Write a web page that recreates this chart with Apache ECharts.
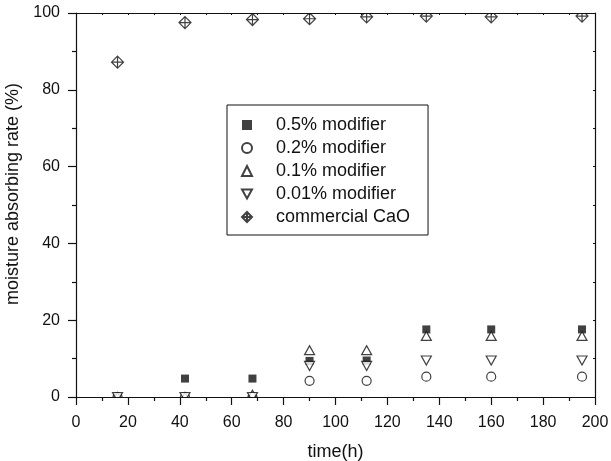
<!DOCTYPE html>
<html>
<head>
<meta charset="utf-8">
<script src="https://cdn.jsdelivr.net/npm/echarts@6/dist/echarts.min.js"></script>
<style>
  html, body { margin: 0; padding: 0; background: #fff; }
  #main { width: 611px; height: 461px; }
</style>
</head>
<body>
<div id="main"></div>
<script>
// time points (h)
let timeH = [16, 42, 68, 90, 112, 135, 160, 195];
// moisture absorbing rate (%)
let mod05 = [0, 4.8, 4.8, 9.4, 9.5, 17.6, 17.6, 17.6];
let mod02 = [0, 0, 0, 4.2, 4.2, 5.3, 5.3, 5.3];
let mod01 = [0, 0, 0.6, 12.2, 12.2, 15.9, 15.9, 15.9];
let mod001 = [0, 0, 0, 8.1, 8.1, 9.5, 9.5, 9.5];
let cao = [87.2, 97.5, 98.3, 98.5, 99.0, 99.2, 99.0, 99.2];
let names = ["0.5% modifier", "0.2% modifier", "0.1% modifier", "0.01% modifier", "commercial CaO"];

const ink = "#111";
const font = "Liberation Sans";

function pairs(ys) {
  return ys.map((y, i) => [timeH[i], y]);
}

// diamond with a cross in it, and a downward triangle
const crossDiamond = "path://M0,-6L6,0L0,6L-6,0ZM0,-6L0,6M-6,0L6,0";
const downTriangle = "path://M-5,-4.5L5,-4.5L0,4.5Z";

var myChart = echarts.init(document.getElementById("main"), null, { renderer: "canvas" });

let hollow = { color: "#fff", borderColor: ink, borderWidth: 1.2 };
let axisZ = 10;

let option = {
  backgroundColor: "#fff",
  animation: false,
  grid: { left: 76, right: 16, top: 13, bottom: 64, outerBoundsMode: "none", containLabel: false },
  legend: {
    orient: "vertical",
    left: 227,
    top: 105,
    padding: [11, 18, 9, 14],
    itemWidth: 10,
    itemHeight: 10,
    itemGap: 5,
    borderColor: ink,
    borderWidth: 1,
    backgroundColor: "#fff",
    textStyle: { fontFamily: font, fontSize: 18, color: ink, padding: [0, 0, 0, 19] },
    data: names,
  },
  xAxis: [
    {
      type: "value",
      z: axisZ,
      min: 0,
      max: 200,
      interval: 20,
      name: "time(h)",
      nameLocation: "middle",
      nameGap: 46,
      nameTextStyle: { fontFamily: font, fontSize: 18, color: ink },
      axisLine: { lineStyle: { color: ink, width: 1.2 } },
      axisTick: { length: 8, lineStyle: { color: ink, width: 1.2 } },
      minorTick: { show: true, splitNumber: 2, length: 4, lineStyle: { color: ink, width: 1.2 } },
      axisLabel: { fontFamily: font, fontSize: 16, color: ink, margin: 18 },
      splitLine: { show: false },
    },
    {
      // top border
      type: "value",
      z: axisZ,
      position: "top",
      min: 0,
      max: 200,
      interval: 10,
      axisLine: { onZero: false, lineStyle: { color: ink, width: 1.2 } },
      axisTick: { inside: true, length: 2, lineStyle: { color: ink } },
      axisLabel: { show: false },
      splitLine: { show: false },
    },
  ],
  yAxis: [
    {
      type: "value",
      z: axisZ,
      min: 0,
      max: 100,
      interval: 20,
      name: "moisture absorbing rate (%)",
      nameLocation: "middle",
      nameGap: 54,
      nameTextStyle: { fontFamily: font, fontSize: 18, color: ink, padding: [0, 0, 0, 22] },
      axisLine: { show: true, lineStyle: { color: ink, width: 1.2 } },
      axisTick: { show: true, length: 8, lineStyle: { color: ink, width: 1.2 } },
      minorTick: { show: true, splitNumber: 2, length: 4, lineStyle: { color: ink, width: 1.2 } },
      axisLabel: { fontFamily: font, fontSize: 16, color: ink, margin: 16 },
      splitLine: { show: false },
    },
    {
      // right border
      type: "value",
      z: axisZ,
      position: "right",
      min: 0,
      max: 100,
      interval: 10,
      axisLine: { show: true, onZero: false, lineStyle: { color: ink, width: 1.2 } },
      axisTick: { show: true, inside: true, length: 2, lineStyle: { color: ink } },
      axisLabel: { show: false },
      splitLine: { show: false },
    },
  ],
  series: [
    {
      name: names[0],
      type: "scatter",
      symbol: "rect",
      symbolSize: 8,
      itemStyle: { color: ink },
      data: pairs(mod05),
    },
    {
      name: names[1],
      type: "scatter",
      symbol: "circle",
      symbolSize: 9,
      itemStyle: hollow,
      data: pairs(mod02),
    },
    {
      name: names[2],
      type: "scatter",
      symbol: "triangle",
      symbolSize: [10, 9],
      itemStyle: hollow,
      data: pairs(mod01),
    },
    {
      name: names[3],
      type: "scatter",
      symbol: downTriangle,
      symbolSize: [10, 9],
      itemStyle: hollow,
      data: pairs(mod001),
    },
    {
      name: names[4],
      type: "scatter",
      symbol: crossDiamond,
      symbolSize: 12,
      itemStyle: hollow,
      data: pairs(cao),
    },
  ],
};

myChart.setOption(option);

// markers are cut at the plot frame: white masks outside the grid,
// drawn above the series but below the axes
let p0 = myChart.convertToPixel({ gridIndex: 0 }, [0, 0]);
let p1 = myChart.convertToPixel({ gridIndex: 0 }, [200, 100]);
myChart.setOption({
  graphic: [
    { type: "rect", z: 5, shape: { x: p0[0], y: p0[1], width: p1[0] - p0[0], height: 12 }, style: { fill: "#fff" } },
    { type: "rect", z: 5, shape: { x: p0[0], y: p1[1] - 12, width: p1[0] - p0[0], height: 12 }, style: { fill: "#fff" } },
  ],
});
</script>
</body>
</html>
